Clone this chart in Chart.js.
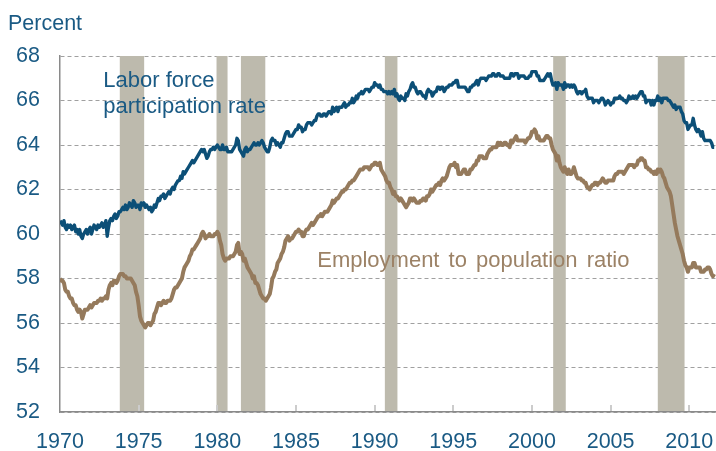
<!DOCTYPE html>
<html>
<head>
<meta charset="utf-8">
<script src="https://cdn.jsdelivr.net/npm/chart.js@4.4.1/dist/chart.umd.min.js"></script>
<style>
  html, body { margin: 0; padding: 0; background: #ffffff; }
  #wrap { width: 716px; height: 451px; }
</style>
</head>
<body>
<div id="wrap"><canvas id="chart" width="716" height="451"></canvas></div>
<script>
// monthly data, Jan 1970 onward
const startYear = 1970;

const participation = [
  60.6, 60.5, 60.4, 60.6, 60.3, 60.2, 60.4, 60.3, 60.4, 60.2, 60.3, 60.4,
  60.1, 60.2, 60.0, 60.2, 59.9, 59.8, 60.0, 60.1, 60.2, 60.0, 60.2, 60.3,
  60.0, 60.2, 60.4, 60.3, 60.2, 60.4, 60.3, 60.4, 60.5, 60.3, 60.4, 60.6,
  59.9, 60.3, 60.6, 60.7, 60.6, 60.8, 60.9, 60.7, 60.8, 61.0, 61.0, 61.1,
  61.2, 61.1, 61.3, 61.1, 61.2, 61.4, 61.3, 61.2, 61.5, 61.4, 61.2, 61.3,
  61.3, 61.1, 61.4, 61.3, 61.4, 61.2, 61.3, 61.2, 61.1, 61.2, 61.0, 61.1,
  61.3, 61.2, 61.4, 61.6, 61.5, 61.7, 61.7, 61.8, 61.6, 61.7, 61.8, 61.9,
  61.8, 62.0, 62.1, 62.0, 62.2, 62.3, 62.4, 62.4, 62.6, 62.5, 62.8, 62.7,
  62.8, 62.9, 63.0, 63.1, 63.2, 63.3, 63.2, 63.3, 63.4, 63.5, 63.6, 63.7,
  63.8, 63.7, 63.8, 63.6, 63.4, 63.5, 63.7, 63.8, 63.8, 63.9, 63.8, 63.9,
  64.0, 63.9, 63.8, 63.8, 64.0, 63.8, 63.8, 63.9, 63.7, 63.7, 63.7, 63.7,
  63.8, 63.9, 64.0, 64.3, 64.2, 63.8, 63.7, 63.6, 63.5, 63.8, 63.9, 63.7,
  63.8, 63.8, 63.9, 64.0, 64.1, 64.0, 64.0, 64.1, 64.0, 64.1, 64.2, 64.1,
  63.9, 63.8, 63.7, 63.7, 63.9, 64.2, 64.3, 64.2, 64.2, 64.0, 64.1, 64.0,
  63.9, 64.1, 64.1, 64.3, 64.5, 64.6, 64.6, 64.4, 64.4, 64.4, 64.5, 64.6,
  64.7, 64.7, 64.9, 64.8, 64.8, 64.6, 64.7, 64.7, 64.9, 65.0, 65.0, 65.0,
  64.9, 65.0, 65.1, 65.1, 65.3, 65.4, 65.4, 65.3, 65.3, 65.4, 65.4, 65.3,
  65.4, 65.5, 65.5, 65.4, 65.7, 65.5, 65.6, 65.7, 65.5, 65.7, 65.7, 65.7,
  65.8, 65.9, 65.7, 65.8, 65.8, 65.9, 65.9, 66.1, 65.9, 66.0, 66.2, 66.1,
  66.3, 66.3, 66.4, 66.3, 66.4, 66.5, 66.5, 66.5, 66.4, 66.5, 66.6, 66.6,
  66.8, 66.7, 66.7, 66.6, 66.7, 66.5, 66.5, 66.4, 66.4, 66.4, 66.3, 66.4,
  66.3, 66.4, 66.3, 66.5, 66.2, 66.3, 66.1, 66.0, 66.2, 66.1, 66.1, 66.0,
  66.3, 66.2, 66.4, 66.5, 66.7, 66.8, 66.6, 66.6, 66.4, 66.3, 66.4, 66.4,
  66.3, 66.2, 66.2, 66.1, 66.4, 66.5, 66.4, 66.4, 66.2, 66.3, 66.4, 66.4,
  66.6, 66.6, 66.5, 66.6, 66.6, 66.4, 66.5, 66.6, 66.6, 66.7, 66.7, 66.7,
  66.8, 66.8, 66.9, 66.9, 66.6, 66.6, 66.6, 66.6, 66.6, 66.6, 66.5, 66.4,
  66.4, 66.6, 66.6, 66.7, 66.7, 66.8, 66.9, 66.7, 66.9, 67.0, 67.0, 67.0,
  67.0, 66.9, 67.0, 67.1, 67.1, 67.1, 67.2, 67.2, 67.1, 67.1, 67.2, 67.2,
  67.1, 67.1, 67.1, 67.0, 67.0, 67.0, 67.0, 67.0, 67.2, 67.2, 67.1, 67.2,
  67.2, 67.2, 67.0, 67.1, 67.1, 67.1, 67.1, 67.0, 67.0, 67.0, 67.1, 67.1,
  67.3, 67.3, 67.3, 67.3, 67.1, 67.1, 66.9, 66.9, 66.9, 66.9, 67.0, 67.1,
  67.2, 67.1, 67.2, 66.9, 66.7, 66.7, 66.8, 66.5, 66.8, 66.7, 66.7, 66.7,
  66.5, 66.8, 66.6, 66.7, 66.7, 66.6, 66.7, 66.6, 66.7, 66.6, 66.4, 66.3,
  66.4, 66.4, 66.3, 66.4, 66.4, 66.5, 66.2, 66.1, 66.1, 66.1, 66.1, 65.9,
  66.0, 66.0, 66.0, 65.9, 66.0, 66.1, 66.1, 66.0, 65.8, 65.9, 66.0, 65.9,
  65.8, 65.9, 65.9, 66.1, 66.1, 66.1, 66.1, 66.2, 66.1, 66.1, 66.0, 66.0,
  65.9, 66.0, 66.2, 66.1, 66.1, 66.2, 66.1, 66.2, 66.1, 66.2, 66.3, 66.4,
  66.4, 66.2, 66.2, 65.9, 66.0, 66.0, 66.0, 65.8, 66.0, 65.8, 66.0, 66.0,
  66.2, 66.0, 66.1, 65.9, 66.1, 66.1, 66.1, 66.1, 66.0, 66.0, 65.9, 65.8,
  65.7, 65.8, 65.6, 65.7, 65.7, 65.7, 65.5, 65.4, 65.1, 65.0, 65.0, 64.7,
  64.8, 64.9, 64.9, 65.2, 64.9, 64.7, 64.6, 64.7, 64.6, 64.4, 64.6, 64.3,
  64.2, 64.2, 64.2, 64.2, 64.2, 64.1, 63.9, 63.9
];

const empPop = [
  58.0, 57.9, 57.9, 57.8, 57.5, 57.4, 57.4, 57.2, 57.1, 57.1, 56.9, 56.8,
  56.8, 56.6, 56.5, 56.6, 56.5, 56.2, 56.4, 56.6, 56.6, 56.6, 56.7, 56.8,
  56.7, 56.8, 56.9, 56.9, 56.9, 57.0, 57.0, 57.1, 57.0, 57.1, 57.1, 57.2,
  57.1, 57.5, 57.7, 57.8, 57.7, 57.9, 57.9, 57.8, 57.9, 58.1, 58.2, 58.2,
  58.2, 58.1, 58.1, 58.0, 58.0, 58.0, 58.0, 57.9, 57.8, 57.7, 57.4, 57.2,
  56.8, 56.3, 56.1, 56.0, 55.9, 55.8, 55.9, 56.0, 56.0, 55.9, 56.0, 56.1,
  56.4, 56.5, 56.7, 56.9, 56.9, 56.8, 56.9, 57.0, 56.9, 56.9, 57.0, 57.0,
  57.0, 57.1, 57.3, 57.5, 57.6, 57.6, 57.7, 57.8, 57.9, 58.0, 58.3, 58.5,
  58.6, 58.7, 58.8, 59.0, 59.1, 59.3, 59.3, 59.4, 59.5, 59.6, 59.7, 59.8,
  60.0, 60.1, 60.0, 59.8, 59.9, 59.9, 60.0, 59.9, 59.9, 59.9, 60.0, 60.0,
  60.1, 60.0, 59.7, 59.5, 59.1, 58.9, 58.8, 58.9, 58.9, 58.9, 59.0, 59.0,
  59.0, 59.1, 59.2, 59.5, 59.6, 59.1, 59.2, 59.1, 58.8, 58.9, 58.7, 58.5,
  58.4, 58.3, 58.2, 58.0, 58.1, 57.8, 57.8, 57.7, 57.5, 57.3, 57.2, 57.1,
  57.1, 57.0, 57.1, 57.2, 57.3, 57.6, 58.0, 58.1, 58.3, 58.4, 58.7, 58.8,
  58.9, 59.1, 59.2, 59.4, 59.7, 59.8, 59.9, 59.7, 59.8, 59.8, 59.9, 60.0,
  60.1, 60.1, 60.2, 60.1, 60.1, 59.9, 59.9, 60.1, 60.2, 60.2, 60.3, 60.4,
  60.5, 60.4, 60.5, 60.6, 60.7, 60.8, 60.8, 60.9, 60.8, 60.9, 61.0, 61.0,
  61.0, 61.1, 61.2, 61.3, 61.5, 61.4, 61.5, 61.6, 61.6, 61.7, 61.8, 61.9,
  61.9, 62.0, 62.0, 62.1, 62.2, 62.3, 62.3, 62.4, 62.4, 62.5, 62.6, 62.7,
  62.8, 62.9, 62.9, 62.9, 63.0, 63.0, 63.0, 63.0, 62.9, 63.0, 63.1, 63.1,
  63.2, 63.2, 63.1, 63.1, 63.2, 62.9, 62.8, 62.7, 62.6, 62.4, 62.3, 62.3,
  62.1, 62.0, 61.8, 61.9, 61.7, 61.7, 61.6, 61.5, 61.6, 61.5, 61.4, 61.3,
  61.2, 61.3, 61.4, 61.6, 61.6, 61.5, 61.6, 61.5, 61.4, 61.4, 61.4, 61.5,
  61.5, 61.6, 61.6, 61.5, 61.7, 61.7, 61.8, 62.0, 61.9, 62.0, 62.1, 62.2,
  62.2, 62.3, 62.2, 62.4, 62.5, 62.4, 62.5, 62.6, 62.8, 63.0, 63.1, 63.1,
  63.1, 63.2, 63.0, 63.1, 62.7, 62.7, 62.7, 62.8, 62.9, 62.9, 62.7, 62.7,
  62.7, 62.9, 62.9, 63.0, 63.1, 63.1, 63.3, 63.3, 63.5, 63.5, 63.5, 63.4,
  63.4, 63.4, 63.6, 63.7, 63.8, 63.8, 63.9, 63.9, 63.9, 63.9, 64.1, 64.0,
  64.1, 64.0, 64.0, 64.1, 64.1, 64.0, 64.0, 63.9, 64.2, 64.1, 64.2, 64.3,
  64.4, 64.2, 64.2, 64.2, 64.2, 64.2, 64.2, 64.1, 64.2, 64.3, 64.3, 64.4,
  64.6, 64.6, 64.7, 64.6, 64.3, 64.4, 64.2, 64.2, 64.2, 64.2, 64.3, 64.4,
  64.4, 64.3, 64.3, 64.0, 63.8, 63.7, 63.6, 63.3, 63.5, 63.2, 63.0, 62.9,
  62.8, 63.0, 62.8, 62.7, 62.9, 62.7, 62.7, 62.8, 63.0, 62.8, 62.6, 62.5,
  62.5, 62.5, 62.4, 62.4, 62.3, 62.3, 62.1, 62.1, 62.0, 62.1, 62.2, 62.2,
  62.3, 62.3, 62.2, 62.3, 62.3, 62.4, 62.5, 62.4, 62.3, 62.3, 62.4, 62.4,
  62.4, 62.4, 62.4, 62.6, 62.7, 62.7, 62.8, 62.8, 62.8, 62.8, 62.7, 62.8,
  62.9, 63.0, 63.1, 63.1, 63.1, 63.1, 63.0, 63.1, 63.1, 63.3, 63.3, 63.4,
  63.4, 63.3, 63.3, 63.0, 63.0, 62.9, 62.9, 62.8, 62.8, 62.7, 62.8, 62.7,
  62.9, 62.8, 62.9, 62.8, 62.6, 62.5, 62.3, 62.1, 62.0, 61.9, 61.7, 61.3,
  60.9, 60.5, 60.2, 59.9, 59.7, 59.5, 59.3, 59.1, 58.8, 58.6, 58.5, 58.3,
  58.5, 58.5, 58.5, 58.7, 58.7, 58.5, 58.5, 58.5, 58.5, 58.3, 58.3, 58.3,
  58.4, 58.4, 58.5, 58.5, 58.4, 58.2, 58.1, 58.2
];

// recession periods (shaded), in fractional years
const recessionStart = [1973.8, 1979.95, 1981.5, 1990.65, 2001.35, 2008.0];
const recessionEnd   = [1975.35, 1980.65, 1983.05, 1991.45, 2002.15, 2009.7];

const xMin = 1970, xMax = 2011.7;
const yMin = 52, yMax = 68;

const FONT = "'Liberation Sans', Arial, sans-serif";
const BLUE = '#0c4f77';
const BLUE_TEXT = '#1a5a84';
const BROWN = '#957a5c';
const BROWN_TEXT = '#9c8266';
const SHADE = '#bdbaad';

const toPoints = (arr) => arr.map((v, i) => ({ x: startYear + i / 12, y: v }));

const recessionShading = {
  id: 'recessionShading',
  beforeDatasetsDraw(chart) {
    const { ctx, chartArea, scales: { x, y } } = chart;
    ctx.save();
    ctx.fillStyle = SHADE;
    const top = y.getPixelForValue(yMax);
    const bottom = y.getPixelForValue(yMin) - 1;
    recessionStart.forEach((s, i) => {
      const left = x.getPixelForValue(s);
      const right = x.getPixelForValue(recessionEnd[i]);
      ctx.fillRect(left, top, right - left, bottom - top);
    });
    // short tick marks pointing up from the x axis
    ctx.strokeStyle = '#cccccc';
    ctx.lineWidth = 2;
    x.ticks.forEach(t => {
      const px = Math.round(x.getPixelForValue(t.value));
      if (px <= chartArea.left + 1) return;
      ctx.beginPath();
      ctx.moveTo(px, chartArea.bottom - 1);
      ctx.lineTo(px, chartArea.bottom - 7);
      ctx.stroke();
    });
    ctx.restore();
  }
};

const textLabels = {
  id: 'textLabels',
  afterDatasetsDraw(chart) {
    const { ctx, scales: { x, y } } = chart;
    ctx.save();
    ctx.textBaseline = 'alphabetic';
    ctx.textAlign = 'left';

    ctx.fillStyle = BLUE_TEXT;
    ctx.font = '21.5px ' + FONT;
    ctx.fillText('Percent', 8, 29.5);

    ctx.font = '22px ' + FONT;
    ctx.fillText('Labor force', x.getPixelForValue(1972.75), y.getPixelForValue(66.62));
    ctx.fillText('participation rate', x.getPixelForValue(1972.75), y.getPixelForValue(65.42));

    ctx.fillStyle = BROWN_TEXT;
    if ('wordSpacing' in ctx) ctx.wordSpacing = '3px';
    ctx.fillText('Employment to population ratio', x.getPixelForValue(1986.35), y.getPixelForValue(58.5));
    ctx.restore();
  }
};

new Chart(document.getElementById('chart'), {
  type: 'line',
  data: {
    datasets: [
      {
        label: 'Labor force participation rate',
        data: toPoints(participation),
        borderColor: BLUE,
        borderWidth: 3.4,
        pointRadius: 0,
        tension: 0,
        borderJoinStyle: 'round'
      },
      {
        label: 'Employment to population ratio',
        data: toPoints(empPop),
        borderColor: BROWN,
        borderWidth: 4,
        pointRadius: 0,
        tension: 0,
        borderJoinStyle: 'round'
      }
    ]
  },
  options: {
    responsive: false,
    animation: false,
    layout: { padding: { top: 56, left: 0, right: 0, bottom: 0 } },
    plugins: {
      legend: { display: false },
      tooltip: { enabled: false }
    },
    scales: {
      x: {
        type: 'linear',
        min: xMin,
        max: xMax,
        afterFit: (scale) => {
          scale.height = 39;
          scale.paddingLeft = 0;
          scale.paddingRight = 0;
        },
        grid: { display: false, drawTicks: false },
        border: { display: true, color: '#8a8a8a', width: 1.5 },
        ticks: {
          stepSize: 5,
          includeBounds: false,
          maxRotation: 0,
          padding: 17,
          color: BLUE_TEXT,
          font: { family: FONT, size: 21.5 },
          callback: (v) => String(v)
        }
      },
      y: {
        min: yMin,
        max: yMax,
        afterFit: (scale) => { scale.width = 60; },
        grid: {
          color: '#a0a0a0',
          lineWidth: 1,
          drawTicks: false
        },
        border: { display: true, color: '#8a8a8a', width: 1.5, dash: [4, 3] },
        ticks: {
          stepSize: 2,
          padding: 20,
          color: BLUE_TEXT,
          font: { family: FONT, size: 21.5 },
          callback: (v) => String(v)
        }
      }
    }
  },
  plugins: [recessionShading, textLabels]
});
</script>
</body>
</html>
